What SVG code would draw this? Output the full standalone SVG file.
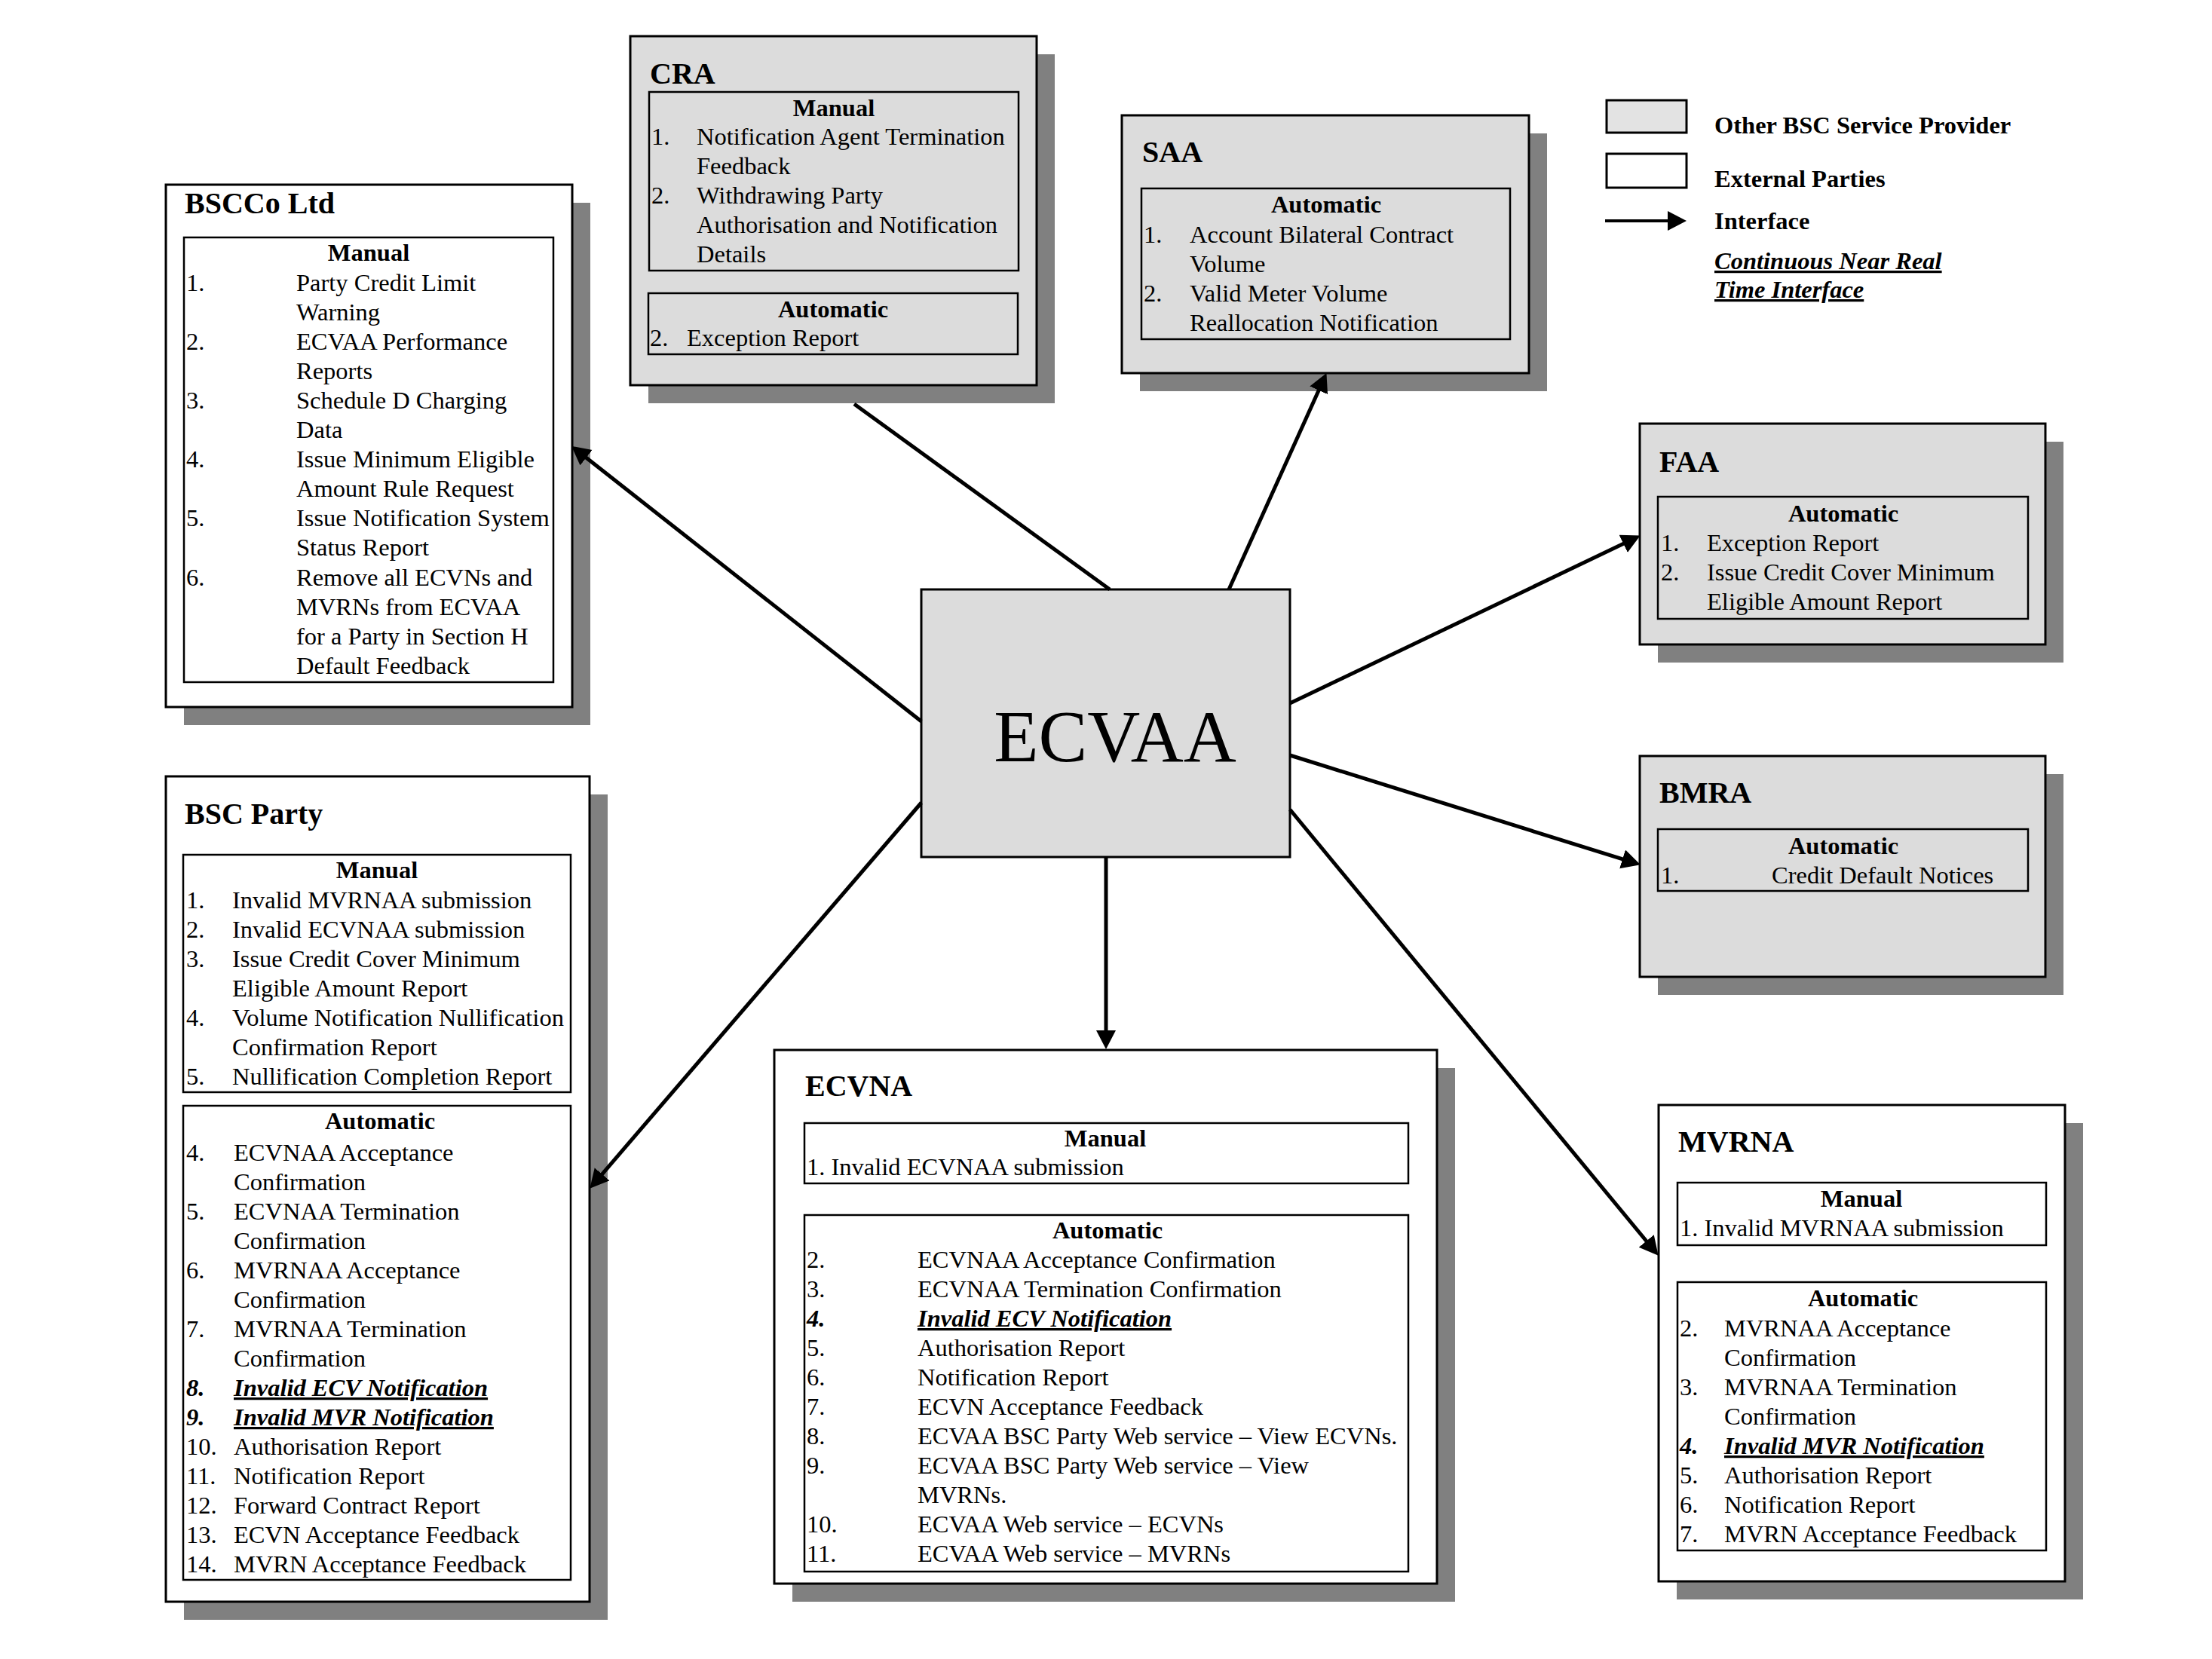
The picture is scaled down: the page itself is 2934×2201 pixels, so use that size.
<svg xmlns="http://www.w3.org/2000/svg" width="2934" height="2201" viewBox="0 0 2934 2201">
<defs>
<style>
text{font-family:"Liberation Serif","Times New Roman",serif;font-size:32.5px;fill:#000}
.shadow{fill:#808080}
.gray{fill:#dcdcdc;stroke:#000;stroke-width:3}
.white{fill:#fff;stroke:#000;stroke-width:3}
.inner{fill:none;stroke:#000;stroke-width:2.5}
.title{font-weight:bold;font-size:40px}
.hdr{font-weight:bold;text-anchor:middle}
.bi{font-weight:bold;font-style:italic}
.u{text-decoration:underline}
.lb{font-weight:bold}
.conn{stroke:#000;stroke-width:5;fill:none}
</style>
<marker id="arr" markerUnits="userSpaceOnUse" markerWidth="28" markerHeight="28" refX="2" refY="13" orient="auto" viewBox="0 0 28 28">
<path d="M0,0 L25,13 L0,26 z" fill="#000"/>
</marker>
</defs>
<rect width="2934" height="2201" fill="#fff"/>

<g id="legend">
<rect x="2131" y="133" width="106" height="43" fill="#e3e3e3" stroke="#000" stroke-width="3"/>
<rect x="2131" y="204" width="106" height="45" fill="#fff" stroke="#000" stroke-width="3"/>
<line x1="2129" y1="293" x2="2214" y2="293" stroke="#000" stroke-width="4" marker-end="url(#arr)"/>
<text x="2274" y="177" class="lb">Other BSC Service Provider</text>
<text x="2274" y="248" class="lb">External Parties</text>
<text x="2274" y="304" class="lb">Interface</text>
<text x="2274" y="357" class="bi u">Continuous Near Real</text>
<text x="2274" y="395" class="bi u">Time Interface</text>
</g>

<g id="cra">
<rect class="shadow" x="860" y="72" width="539" height="463"/>
<rect class="gray" x="836" y="48" width="539" height="463"/>
<text class="title" x="862" y="111">CRA</text>
<rect class="inner" x="861" y="122" width="490" height="237"/>
<text class="hdr" x="1106" y="154">Manual</text>
<text x="864" y="192">1.</text><text x="924" y="192">Notification Agent Termination</text>
<text x="924" y="231">Feedback</text>
<text x="864" y="270">2.</text><text x="924" y="270">Withdrawing Party</text>
<text x="924" y="309">Authorisation and Notification</text>
<text x="924" y="348">Details</text>
<rect class="inner" x="860" y="389" width="490" height="81"/>
<text class="hdr" x="1105" y="421">Automatic</text>
<text x="862" y="459">2.</text><text x="911" y="459">Exception Report</text>
</g>

<g id="saa">
<rect class="shadow" x="1512" y="177" width="540" height="342"/>
<rect class="gray" x="1488" y="153" width="540" height="342"/>
<text class="title" x="1515" y="215">SAA</text>
<rect class="inner" x="1514" y="250" width="489" height="200"/>
<text class="hdr" x="1759" y="282">Automatic</text>
<text x="1517" y="322">1.</text><text x="1578" y="322">Account Bilateral Contract</text>
<text x="1578" y="361">Volume</text>
<text x="1517" y="400">2.</text><text x="1578" y="400">Valid Meter Volume</text>
<text x="1578" y="439">Reallocation Notification</text>
</g>

<g id="bscco">
<rect class="shadow" x="244" y="269" width="539" height="693"/>
<rect class="white" x="220" y="245" width="539" height="693"/>
<text class="title" x="245" y="283">BSCCo Ltd</text>
<rect class="inner" x="244" y="315" width="490" height="590"/>
<text class="hdr" x="489" y="346">Manual</text>
<text x="247" y="386">1.</text><text x="393" y="386">Party Credit Limit</text>
<text x="393" y="425">Warning</text>
<text x="247" y="464">2.</text><text x="393" y="464">ECVAA Performance</text>
<text x="393" y="503">Reports</text>
<text x="247" y="542">3.</text><text x="393" y="542">Schedule D Charging</text>
<text x="393" y="581">Data</text>
<text x="247" y="620">4.</text><text x="393" y="620">Issue Minimum Eligible</text>
<text x="393" y="659">Amount Rule Request</text>
<text x="247" y="698">5.</text><text x="393" y="698">Issue Notification System</text>
<text x="393" y="737">Status Report</text>
<text x="247" y="777">6.</text><text x="393" y="777">Remove all ECVNs and</text>
<text x="393" y="816">MVRNs from ECVAA</text>
<text x="393" y="855">for a Party in Section H</text>
<text x="393" y="894">Default Feedback</text>
</g>

<g id="faa">
<rect class="shadow" x="2199" y="586" width="538" height="293"/>
<rect class="gray" x="2175" y="562" width="538" height="293"/>
<text class="title" x="2201" y="626">FAA</text>
<rect class="inner" x="2199" y="659" width="491" height="162"/>
<text class="hdr" x="2445" y="692">Automatic</text>
<text x="2203" y="731">1.</text><text x="2264" y="731">Exception Report</text>
<text x="2203" y="770">2.</text><text x="2264" y="770">Issue Credit Cover Minimum</text>
<text x="2264" y="809">Eligible Amount Report</text>
</g>

<g id="bmra">
<rect class="shadow" x="2199" y="1027" width="538" height="293"/>
<rect class="gray" x="2175" y="1003" width="538" height="293"/>
<text class="title" x="2201" y="1065">BMRA</text>
<rect class="inner" x="2199" y="1100" width="491" height="82"/>
<text class="hdr" x="2445" y="1133">Automatic</text>
<text x="2203" y="1172">1.</text><text x="2350" y="1172">Credit Default Notices</text>
</g>

<g id="ecvaa">
<rect class="gray" x="1222" y="782" width="489" height="355"/>
<text x="1479" y="1010" text-anchor="middle" style="font-size:97px">ECVAA</text>
</g>

<g id="bscparty">
<rect class="shadow" x="244" y="1054" width="562" height="1095"/>
<rect class="white" x="220" y="1030" width="562" height="1095"/>
<text class="title" x="245" y="1093">BSC Party</text>
<rect class="inner" x="243" y="1134" width="514" height="315"/>
<text class="hdr" x="500" y="1165">Manual</text>
<text x="247" y="1205">1.</text><text x="308" y="1205">Invalid MVRNAA submission</text>
<text x="247" y="1244">2.</text><text x="308" y="1244">Invalid ECVNAA submission</text>
<text x="247" y="1283">3.</text><text x="308" y="1283">Issue Credit Cover Minimum</text>
<text x="308" y="1322">Eligible Amount Report</text>
<text x="247" y="1361">4.</text><text x="308" y="1361">Volume Notification Nullification</text>
<text x="308" y="1400">Confirmation Report</text>
<text x="247" y="1439">5.</text><text x="308" y="1439">Nullification Completion Report</text>
<rect class="inner" x="243" y="1467" width="514" height="629"/>
<text class="hdr" x="504" y="1498">Automatic</text>
<text x="247" y="1540">4.</text><text x="310" y="1540">ECVNAA Acceptance</text>
<text x="310" y="1579">Confirmation</text>
<text x="247" y="1618">5.</text><text x="310" y="1618">ECVNAA Termination</text>
<text x="310" y="1657">Confirmation</text>
<text x="247" y="1696">6.</text><text x="310" y="1696">MVRNAA Acceptance</text>
<text x="310" y="1735">Confirmation</text>
<text x="247" y="1774">7.</text><text x="310" y="1774">MVRNAA Termination</text>
<text x="310" y="1813">Confirmation</text>
<text x="247" y="1852" class="bi">8.</text><text x="310" y="1852" class="bi u">Invalid ECV Notification</text>
<text x="247" y="1891" class="bi">9.</text><text x="310" y="1891" class="bi u">Invalid MVR Notification</text>
<text x="247" y="1930">10.</text><text x="310" y="1930">Authorisation Report</text>
<text x="247" y="1969">11.</text><text x="310" y="1969">Notification Report</text>
<text x="247" y="2008">12.</text><text x="310" y="2008">Forward Contract Report</text>
<text x="247" y="2047">13.</text><text x="310" y="2047">ECVN Acceptance Feedback</text>
<text x="247" y="2086">14.</text><text x="310" y="2086">MVRN Acceptance Feedback</text>
</g>

<g id="ecvna">
<rect class="shadow" x="1051" y="1417" width="879" height="708"/>
<rect class="white" x="1027" y="1393" width="879" height="708"/>
<text class="title" x="1068" y="1454">ECVNA</text>
<rect class="inner" x="1067" y="1490" width="801" height="80"/>
<text class="hdr" x="1466" y="1521">Manual</text>
<text x="1070" y="1559">1. Invalid ECVNAA submission</text>
<rect class="inner" x="1067" y="1612" width="801" height="473"/>
<text class="hdr" x="1469" y="1643">Automatic</text>
<text x="1070" y="1682">2.</text><text x="1217" y="1682">ECVNAA Acceptance Confirmation</text>
<text x="1070" y="1721">3.</text><text x="1217" y="1721">ECVNAA Termination Confirmation</text>
<text x="1070" y="1760" class="bi">4.</text><text x="1217" y="1760" class="bi u">Invalid ECV Notification</text>
<text x="1070" y="1799">5.</text><text x="1217" y="1799">Authorisation Report</text>
<text x="1070" y="1838">6.</text><text x="1217" y="1838">Notification Report</text>
<text x="1070" y="1877">7.</text><text x="1217" y="1877">ECVN Acceptance Feedback</text>
<text x="1070" y="1916">8.</text><text x="1217" y="1916">ECVAA BSC Party Web service – View ECVNs.</text>
<text x="1070" y="1955">9.</text><text x="1217" y="1955">ECVAA BSC Party Web service – View</text>
<text x="1217" y="1994">MVRNs.</text>
<text x="1070" y="2033">10.</text><text x="1217" y="2033">ECVAA Web service – ECVNs</text>
<text x="1070" y="2072">11.</text><text x="1217" y="2072">ECVAA Web service – MVRNs</text>
</g>

<g id="mvrna">
<rect class="shadow" x="2224" y="1490" width="539" height="632"/>
<rect class="white" x="2200" y="1466" width="539" height="632"/>
<text class="title" x="2226" y="1528">MVRNA</text>
<rect class="inner" x="2225" y="1569" width="489" height="83"/>
<text class="hdr" x="2469" y="1601">Manual</text>
<text x="2228" y="1640">1. Invalid MVRNAA submission</text>
<rect class="inner" x="2225" y="1701" width="489" height="356"/>
<text class="hdr" x="2471" y="1733">Automatic</text>
<text x="2228" y="1773">2.</text><text x="2287" y="1773">MVRNAA Acceptance</text>
<text x="2287" y="1812">Confirmation</text>
<text x="2228" y="1851">3.</text><text x="2287" y="1851">MVRNAA Termination</text>
<text x="2287" y="1890">Confirmation</text>
<text x="2228" y="1929" class="bi">4.</text><text x="2287" y="1929" class="bi u">Invalid MVR Notification</text>
<text x="2228" y="1968">5.</text><text x="2287" y="1968">Authorisation Report</text>
<text x="2228" y="2007">6.</text><text x="2287" y="2007">Notification Report</text>
<text x="2228" y="2046">7.</text><text x="2287" y="2046">MVRN Acceptance Feedback</text>
</g>

<g id="connectors">
<line class="conn" x1="1472" y1="782" x2="1133" y2="536"/>
<line class="conn" x1="1630" y1="782" x2="1750" y2="516" marker-end="url(#arr)"/>
<line class="conn" x1="1222" y1="957" x2="776" y2="606" marker-end="url(#arr)"/>
<line class="conn" x1="1711" y1="933" x2="2155" y2="720.5" marker-end="url(#arr)"/>
<line class="conn" x1="1711" y1="1002" x2="2154" y2="1140.4" marker-end="url(#arr)"/>
<line class="conn" x1="1467" y1="1137" x2="1467" y2="1369" marker-end="url(#arr)"/>
<line class="conn" x1="1711" y1="1074" x2="2185" y2="1648" marker-end="url(#arr)"/>
<line class="conn" x1="1222" y1="1065" x2="797.3" y2="1559.3" marker-end="url(#arr)"/>
</g>
</svg>
